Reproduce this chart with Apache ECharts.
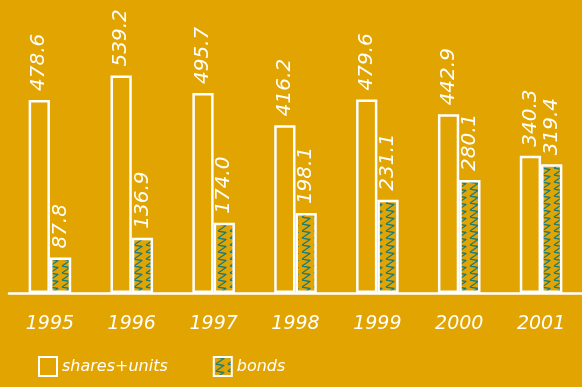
<!DOCTYPE html>
<html>
<head>
<meta charset="utf-8">
<script src="https://cdn.jsdelivr.net/npm/echarts@6/dist/echarts.min.js"></script>
<style>
  html, body { margin: 0; padding: 0; background: #E2A400; }
  #chart { width: 582px; height: 387px; }
</style>
</head>
<body>
<div id="chart"></div>
<script>
// Funds invested by year (millions)
const years = ['1995', '1996', '1997', '1998', '1999', '2000', '2001'];
const sharesUnits = [478.6, 539.2, 495.7, 416.2, 479.6, 442.9, 340.3];
const bonds = [87.8, 136.9, 174.0, 198.1, 231.1, 280.1, 319.4];

const BG = '#E2A400';
const TEAL = '#1B7C78';
const HAND = 'DejaVu Sans';

// Teal coil-like scribble fill for the bonds bars
function scribblePattern() {
  const c = document.createElement('canvas');
  c.width = 12; c.height = 7;
  const g = c.getContext('2d');
  g.fillStyle = BG;
  g.fillRect(0, 0, 12, 7);
  g.strokeStyle = TEAL;
  g.lineWidth = 1.3;
  g.lineJoin = 'round';
  g.beginPath();
  g.moveTo(2, 7);
  g.lineTo(10, 1.5);
  g.lineTo(2, 0);
  g.stroke();
  return c;
}

const chart = echarts.init(document.getElementById('chart'));

const valueLabel = {
  show: true,
  position: 'top',
  rotate: 90,
  align: 'left',
  verticalAlign: 'middle',
  distance: 9,
  color: '#fff',
  fontFamily: HAND,
  fontStyle: 'italic',
  fontWeight: 'lighter',
  fontSize: 20,
  formatter: p => p.value.toFixed(1)
};

chart.setOption({
  backgroundColor: BG,
  animation: false,
  grid: { left: 9, width: 582, top: 51, bottom: 94 },
  legend: {
    bottom: 5,
    left: 33,
    icon: 'rect',
    itemWidth: 18,
    itemHeight: 19,
    itemGap: 45,
    textStyle: {
      color: '#fff',
      fontFamily: HAND,
      fontStyle: 'italic',
      fontSize: 16
    },
    data: ['shares+units', 'bonds']
  },
  xAxis: {
    type: 'category',
    data: years,
    axisLine: { lineStyle: { color: '#fff', width: 2.5 } },
    axisTick: { show: false },
    axisLabel: {
      color: '#fff',
      fontFamily: HAND,
      fontStyle: 'italic',
      fontWeight: 'lighter',
      fontSize: 19,
      margin: 22
    }
  },
  yAxis: {
    type: 'value',
    min: 0,
    max: 600,
    show: false,
    splitLine: { show: false }
  },
  series: [
    {
      name: 'shares+units',
      type: 'bar',
      data: sharesUnits,
      barGap: '0%',
      barCategoryGap: '48%',
      itemStyle: { color: BG, borderColor: '#fff', borderWidth: 2.5 },
      label: valueLabel
    },
    {
      name: 'bonds',
      type: 'bar',
      data: bonds,
      itemStyle: {
        color: { image: scribblePattern(), repeat: 'repeat' },
        borderColor: '#fff',
        borderWidth: 2.5
      },
      label: valueLabel
    }
  ]
});
</script>
</body>
</html>
